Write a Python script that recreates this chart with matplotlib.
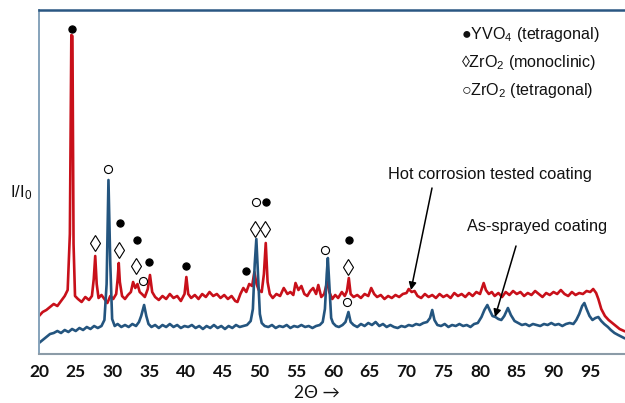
import matplotlib
matplotlib.use("Agg")
import matplotlib.pyplot as plt

# ---------------- data ----------------
red_2theta = [20.0, 20.5, 21.0, 21.5, 22.0, 22.5, 23.0, 23.5, 23.9, 24.2, 24.4, 24.55, 24.7, 24.9,
              25.3, 25.8, 26.3, 26.8, 27.2, 27.45, 27.65, 27.85, 28.1, 28.5, 28.9, 29.3, 29.7,
              30.1, 30.5, 30.7, 30.85, 31.0, 31.3, 31.7, 32.1, 32.5, 32.8, 33.1, 33.4, 33.7,
              34.0, 34.4, 34.8, 35.1, 35.4, 35.8, 36.3, 36.8, 37.3, 37.8, 38.3, 38.8, 39.3,
              39.8, 40.05, 40.3, 40.7, 41.2, 41.7, 42.2, 42.7, 43.2, 43.7, 44.2, 44.7, 45.2,
              45.7, 46.2, 46.7, 47.0, 47.4, 47.8, 48.2, 48.6, 49.0, 49.3, 49.6, 49.9, 50.3,
              50.6, 50.85, 51.1, 51.4, 51.8, 52.3, 52.8, 53.3, 53.8, 54.2, 54.6, 54.9, 55.3,
              55.7, 56.1, 56.5, 56.9, 57.3, 57.7, 58.0, 58.4, 58.8, 59.2, 59.5, 59.9, 60.3,
              60.7, 61.2, 61.6, 61.9, 62.15, 62.4, 62.8, 63.3, 63.8, 64.3, 64.8, 65.2, 65.6,
              66.0, 66.5, 67.0, 67.5, 68.0, 68.5, 69.0, 69.5, 70.0, 70.3, 70.7, 71.1, 71.5,
              72.0, 72.5, 73.0, 73.5, 74.0, 74.5, 75.0, 75.5, 76.0, 76.5, 77.0, 77.5, 78.0,
              78.5, 79.0, 79.5, 80.0, 80.5, 80.8, 81.2, 81.6, 82.0, 82.5, 83.0, 83.5, 84.0,
              84.5, 85.0, 85.5, 86.0, 86.5, 87.0, 87.5, 88.0, 88.5, 89.0, 89.5, 90.0, 90.5,
              91.0, 91.5, 92.0, 92.5, 93.0, 93.5, 94.0, 94.5, 95.0, 95.4, 95.8, 96.1, 96.5,
              97.0, 97.5, 98.0, 98.5, 99.0, 99.6]
red_intensity = [38, 42, 44, 47, 50, 48, 53, 58, 64, 120, 319, 318, 110, 58,
                 55, 52, 57, 54, 58, 75, 98, 70, 56, 59, 55, 51, 58,
                 55, 60, 75, 91, 72, 58, 55, 59, 62, 72, 66, 70, 62,
                 60, 57, 65, 79, 62, 57, 54, 58, 55, 60, 56, 58, 53,
                 60, 77, 60, 56, 59, 55, 60, 57, 62, 58, 60, 56, 59,
                 55, 58, 53, 52, 60, 66, 62, 70, 68, 82, 70, 64, 62,
                 80, 111, 72, 60, 56, 60, 58, 66, 60, 62, 59, 71, 64,
                 68, 60, 58, 63, 66, 60, 69, 57, 60, 72, 62, 55, 59,
                 56, 62, 58, 63, 76, 60, 57, 59, 56, 60, 58, 66, 60,
                 57, 59, 55, 58, 56, 59, 57, 60, 61, 65, 62, 63, 58,
                 56, 60, 57, 59, 56, 60, 57, 59, 56, 61, 58, 60, 57,
                 61, 58, 62, 60, 71, 64, 60, 62, 58, 61, 57, 62, 59,
                 63, 60, 62, 58, 61, 59, 63, 60, 57, 61, 59, 62, 60,
                 64, 60, 58, 62, 59, 61, 60, 63, 62, 65, 61, 55, 45,
                 38, 34, 31, 28, 25, 23]

blue_2theta = [20.0, 20.5, 21.0, 21.5, 22.0, 22.5, 23.0, 23.5, 24.0, 24.5, 25.0, 25.5, 26.0,
               26.5, 27.0, 27.5, 28.0, 28.5, 28.9, 29.2, 29.45, 29.7, 29.95, 30.3, 30.7, 31.2,
               31.7, 32.2, 32.7, 33.2, 33.6, 33.9, 34.3, 34.6, 34.9, 35.3, 35.8, 36.3, 36.8,
               37.3, 37.8, 38.3, 38.8, 39.3, 39.8, 40.3, 40.8, 41.3, 41.8, 42.3, 42.8, 43.3,
               43.8, 44.3, 44.8, 45.3, 45.8, 46.3, 46.8, 47.3, 47.8, 48.3, 48.8, 49.1, 49.35,
               49.57, 49.8, 50.05, 50.3, 50.7, 51.2, 51.7, 52.2, 52.7, 53.2, 53.7, 54.2, 54.7,
               55.2, 55.7, 56.2, 56.7, 57.2, 57.7, 58.2, 58.6, 58.9, 59.15, 59.3, 59.5, 59.75,
               60.0, 60.4, 60.8, 61.3, 61.7, 62.1, 62.4, 62.8, 63.3, 63.8, 64.3, 64.8, 65.3,
               65.8, 66.3, 66.8, 67.3, 67.8, 68.3, 68.8, 69.3, 69.8, 70.3, 70.8, 71.3, 71.8,
               72.3, 72.8, 73.2, 73.5, 73.8, 74.2, 74.7, 75.2, 75.7, 76.2, 76.7, 77.2, 77.7,
               78.2, 78.7, 79.2, 79.7, 80.2, 80.6, 81.0, 81.3, 81.7, 82.1, 82.5, 82.9, 83.3,
               83.8, 84.2, 84.7, 85.2, 85.7, 86.2, 86.7, 87.2, 87.7, 88.2, 88.7, 89.2, 89.7,
               90.2, 90.7, 91.2, 91.7, 92.2, 92.7, 93.1, 93.5, 93.9, 94.2, 94.5, 94.9, 95.3,
               95.7, 96.1, 96.5, 96.9, 97.4, 97.8, 98.3, 98.8, 99.6]
blue_intensity = [11, 14, 17, 20, 21, 23, 21, 24, 22, 25, 23, 26, 24,
                  27, 25, 28, 26, 28, 34, 70, 174, 90, 35, 28, 30, 27,
                  29, 27, 30, 28, 32, 38, 49, 38, 30, 27, 29, 26, 29,
                  27, 30, 27, 29, 26, 28, 27, 29, 26, 28, 25, 28, 26,
                  29, 26, 28, 25, 28, 26, 29, 27, 28, 29, 33, 45, 90,
                  115, 80, 40, 31, 28, 27, 29, 26, 28, 27, 29, 26, 28,
                  27, 29, 27, 28, 26, 28, 29, 32, 45, 80, 96, 70, 36,
                  31, 28, 27, 29, 32, 42, 32, 29, 27, 30, 28, 31, 29,
                  32, 28, 30, 27, 29, 27, 26, 28, 27, 29, 28, 30, 29,
                  31, 32, 36, 44, 34, 29, 28, 30, 27, 29, 28, 30, 28,
                  29, 27, 30, 31, 37, 44, 49, 44, 38, 37, 35, 34, 38,
                  46, 39, 33, 31, 29, 30, 28, 30, 29, 28, 30, 29, 31,
                  29, 30, 28, 30, 31, 30, 34, 40, 48, 51, 45, 38, 34,
                  36, 37, 33, 30, 27, 24, 21, 19, 16]

# phase markers: position (2theta), height, kind
marker_2theta = [24.5, 29.4, 27.6, 31.0, 30.9, 33.3, 33.2, 35.0, 34.2, 40.0, 48.2,
                 49.5, 50.9, 49.4, 50.8, 58.9, 62.2, 62.0, 61.9]
marker_height = [325, 185, 111, 131, 104, 114, 88, 92, 73, 88, 83,
                 152, 152, 125, 125, 104, 114, 87, 52]
marker_kind = ['YVO4', 'ZrO2_t', 'ZrO2_m', 'YVO4', 'ZrO2_m', 'YVO4', 'ZrO2_m', 'YVO4', 'ZrO2_t',
               'YVO4', 'YVO4', 'ZrO2_t', 'YVO4', 'ZrO2_m', 'ZrO2_m', 'ZrO2_t', 'YVO4', 'ZrO2_m',
               'ZrO2_t']

legend_lines = ['●YVO$_4$ (tetragonal)', '◊ZrO$_2$ (monoclinic)', '○ZrO$_2$ (tetragonal)']
xticks = [20, 25, 30, 35, 40, 45, 50, 55, 60, 65, 70, 75, 80, 85, 90, 95]

# ---------------- figure ----------------
plt.rcParams['mathtext.fontset'] = 'custom'
plt.rcParams['mathtext.rm'] = 'Liberation Sans'
plt.rcParams['mathtext.it'] = 'Liberation Sans'

W, H = 625, 403
fig = plt.figure(figsize=(W / 100, H / 100), dpi=100)
ax = fig.add_axes([39 / W, 49 / H, 586 / W, 344 / H])
ax.set_xlim(20, 20 + 586 / 7.35)
ax.set_ylim(0, 344)

RED = '#c8101a'
BLUE = '#24557f'
ax.plot(red_2theta, red_intensity, color=RED, lw=1.9, solid_joinstyle='round')
ax.plot(blue_2theta, blue_intensity, color=BLUE, lw=1.9, solid_joinstyle='round')

style = {
    'YVO4': dict(marker='o', ms=5.2, mfc='black', mec='black', mew=0.8),
    'ZrO2_t': dict(marker='o', ms=5.8, mfc='white', mec='black', mew=0.8),
    'ZrO2_m': dict(marker='d', ms=8.0, mfc='white', mec='black', mew=0.8),
}
for x, y, k in zip(marker_2theta, marker_height, marker_kind):
    ax.plot([x], [y], linestyle='none', zorder=5, **style[k])

ax.set_xticks(xticks)
ax.set_xticklabels([str(t) for t in xticks], fontfamily='Lato', fontweight='bold', fontsize=12.5)
ax.set_yticks([])
ax.tick_params(axis='x', length=0, pad=7, colors='#111111')

ax.spines['right'].set_visible(False)
ax.spines['top'].set_color('#2a5782')
ax.spines['top'].set_linewidth(1.8)
ax.spines['left'].set_color('#86a3bb')
ax.spines['left'].set_linewidth(1.4)
ax.spines['bottom'].set_color('#8b9ba7')
ax.spines['bottom'].set_linewidth(1.5)

def fx(px):
    return px / W

def fy(py):
    return 1 - py / H

# axis labels
fig.text(fx(317), fy(393), '2Θ →', ha='center', va='center', fontsize=12.5,
         family=['Lato', 'DejaVu Sans'], color='#111111')
fig.text(fx(10), fy(193), 'I/I$_0$', ha='left', va='center', fontsize=12,
         family=['Liberation Sans'], color='#111111')

# legend text
for i, s in enumerate(legend_lines):
    fig.text(fx(461), fy(35 + 27.5 * i), s, ha='left', va='center', fontsize=11.6,
             family=['Liberation Sans', 'DejaVu Sans'], color='#111111')

# annotations
fig.text(fx(388), fy(175), 'Hot corrosion tested coating', ha='left', va='center',
         fontsize=11.8, family=['Liberation Sans'], color='#111111')
fig.text(fx(467), fy(227), 'As-sprayed coating', ha='left', va='center',
         fontsize=11.8, family=['Liberation Sans'], color='#111111')

arrow = dict(arrowstyle='-|>', color='black', lw=1.1, mutation_scale=11, shrinkA=0, shrinkB=0)
ax.annotate('', xy=(411, H - 290), xytext=(432, H - 188), xycoords='figure pixels',
            textcoords='figure pixels', arrowprops=arrow)
ax.annotate('', xy=(495, H - 317), xytext=(516, H - 246), xycoords='figure pixels',
            textcoords='figure pixels', arrowprops=arrow)

fig.savefig('out.png', dpi=100)
